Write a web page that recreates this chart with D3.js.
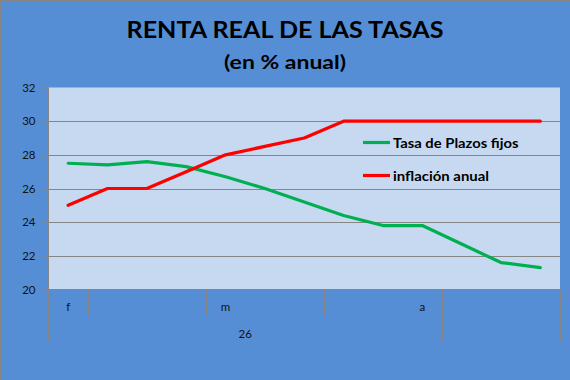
<!DOCTYPE html>
<html>
<head>
<meta charset="utf-8">
<script src="https://cdn.jsdelivr.net/npm/d3@7"></script>
<style>
  html, body { margin: 0; padding: 0; background: #558ED5; }
  svg { display: block; }
</style>
</head>
<body>
<script>
// ---- data ----
const categories = ["f", "", "", "", "m", "", "", "", "", "a", "", "", ""];
const groupLabels = ["26", "", "", ""];
const groupSpans = [10, 1, 1, 1];
const plazosFijos = [27.5, 27.4, 27.6, 27.3, 26.7, 26.0, 25.2, 24.4, 23.8, 23.8, 22.7, 21.6, 21.3];
const inflacion = [25, 26, 26, 27, 28, 28.5, 29, 30, 30, 30, 30, 30, 30];
const yTicks = [20, 22, 24, 26, 28, 30, 32];
const seriesNames = ["Tasa de Plazos fijos", "inflación anual"];
const title = "RENTA REAL DE LAS TASAS";
const subtitle = "(en % anual)";

// ---- layout ----
const W = 570, H = 380;
const plot = { left: 48.5, right: 560, top: 87.5, bottom: 289.5 };
const gridColor = "#868686";
const font = "Lato, 'Open Sans', sans-serif";

const svg = d3.select("body").append("svg").attr("width", W).attr("height", H);

// background + border
svg.append("rect").attr("x", 0).attr("y", 0).attr("width", W).attr("height", H).attr("fill", "#558ED5");
svg.append("rect").attr("x", 0.5).attr("y", 0.5).attr("width", W + 5).attr("height", H + 5)
  .attr("fill", "none").attr("stroke", gridColor).attr("stroke-width", 1.5);

// plot area
svg.append("rect").attr("x", plot.left).attr("y", plot.top)
  .attr("width", plot.right - plot.left).attr("height", plot.bottom - plot.top)
  .attr("fill", "#C6D9F1");

const x = d3.scaleBand().domain(d3.range(categories.length)).range([plot.left, plot.right]);
const y = d3.scaleLinear().domain([20, 32]).range([plot.bottom, plot.top]);

// gridlines
svg.append("g").selectAll("line").data(yTicks.filter(t => t > 20 && t < 32)).join("line")
  .attr("x1", plot.left).attr("x2", plot.right)
  .attr("y1", d => Math.round(y(d)) + 0.5).attr("y2", d => Math.round(y(d)) + 0.5)
  .attr("stroke", gridColor).attr("stroke-width", 1);

// y axis
const yAxis = svg.append("g").attr("transform", `translate(${plot.left},0)`)
  .call(d3.axisLeft(y).tickValues(yTicks).tickSize(8).tickSizeOuter(0).tickPadding(5));
yAxis.select(".domain").remove();
yAxis.selectAll(".tick line").attr("stroke", gridColor)
  .attr("transform", d => `translate(0,${Math.round(y(d)) + 0.5 - y(d)})`);
yAxis.selectAll(".tick text").attr("font-family", font).attr("font-size", 11.5).attr("fill", "#111");
// vertical axis line extends through category area
svg.append("line").attr("x1", plot.left).attr("x2", plot.left)
  .attr("y1", plot.top).attr("y2", 341)
  .attr("stroke", gridColor).attr("stroke-width", 1);

// category axis line
svg.append("line").attr("x1", plot.left - 8).attr("x2", plot.right)
  .attr("y1", plot.bottom).attr("y2", plot.bottom)
  .attr("stroke", gridColor).attr("stroke-width", 1);

// level-1 separators (short) and labels
const bw = x.bandwidth();
svg.append("g").selectAll("line").data(d3.range(1, categories.length + 1)).join("line")
  .attr("x1", i => Math.round(plot.left + i * bw) + 0.5).attr("x2", i => Math.round(plot.left + i * bw) + 0.5)
  .attr("y1", plot.bottom).attr("y2", 315)
  .attr("stroke", gridColor).attr("stroke-width", 1);
svg.append("g").selectAll("text").data(categories).join("text")
  .attr("x", (d, i) => x(i) + bw / 2).attr("y", 310.5)
  .attr("text-anchor", "middle").attr("font-family", font).attr("font-size", 11.5).attr("fill", "#111")
  .text(d => d);

// level-2 group separators (long) and labels
let acc = 0;
const groups = groupLabels.map((g, k) => { const s = acc; acc += groupSpans[k]; return { label: g, start: s, end: acc }; });
svg.append("g").selectAll("line").data(groups).join("line")
  .attr("x1", d => Math.round(plot.left + d.end * bw) + 0.5).attr("x2", d => Math.round(plot.left + d.end * bw) + 0.5)
  .attr("y1", plot.bottom).attr("y2", 341)
  .attr("stroke", gridColor).attr("stroke-width", 1);
svg.append("g").selectAll("text").data(groups).join("text")
  .attr("x", d => plot.left + (d.start + d.end) / 2 * bw).attr("y", 338)
  .attr("text-anchor", "middle").attr("font-family", font).attr("font-size", 11.5).attr("fill", "#111")
  .text(d => d.label);

// lines
const line = d3.line().x((d, i) => x(i) + bw / 2).y(d => y(d));
const series = [
  { name: seriesNames[0], values: plazosFijos, color: "#00B050" },
  { name: seriesNames[1], values: inflacion, color: "#FF0000" }
];
svg.append("g").selectAll("path").data(series).join("path")
  .attr("d", d => line(d.values))
  .attr("fill", "none").attr("stroke", d => d.color).attr("stroke-width", 3.2)
  .attr("stroke-linejoin", "round").attr("stroke-linecap", "round");

// legend
const legY = [142.5, 175.5];
const leg = svg.append("g").selectAll("g").data(series).join("g")
  .attr("transform", (d, i) => `translate(363,${legY[i]})`);
leg.append("line").attr("x1", 0).attr("x2", 27).attr("y1", 0).attr("y2", 0)
  .attr("stroke", d => d.color).attr("stroke-width", 3.2);
leg.append("text").attr("x", 30).attr("y", 5)
  .attr("font-family", font).attr("font-weight", "bold").attr("font-size", 13.5).attr("fill", "#000")
  .attr("textLength", (d, i) => [125.5, 96][i]).attr("lengthAdjust", "spacingAndGlyphs")
  .text(d => d.name);

// titles
svg.append("text").attr("x", 285).attr("y", 37.5).attr("text-anchor", "middle")
  .attr("font-family", font).attr("font-weight", "bold").attr("font-size", 23.5).attr("fill", "#000")
  .attr("textLength", 317).attr("lengthAdjust", "spacingAndGlyphs")
  .text(title);
svg.append("text").attr("x", 285).attr("y", 68.5).attr("text-anchor", "middle")
  .attr("font-family", font).attr("font-weight", "bold").attr("font-size", 19.5).attr("fill", "#000")
  .attr("textLength", 122).attr("lengthAdjust", "spacingAndGlyphs")
  .text(subtitle);
</script>
</body>
</html>
